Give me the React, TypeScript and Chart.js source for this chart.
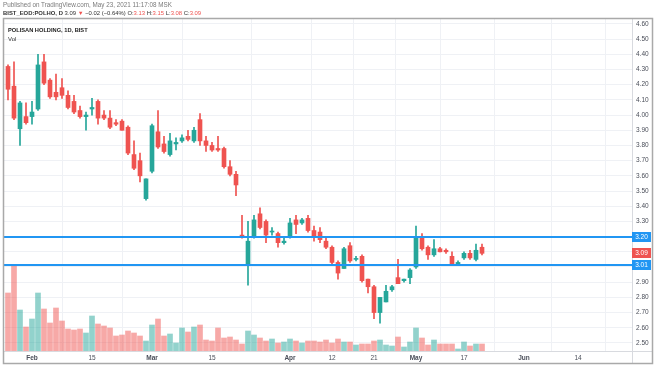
import React, { useEffect, useRef } from 'react';
import { Chart, registerables } from 'chart.js';

Chart.register(...registerables);

// Trading days (BIST), 26 Jan 2021 – 21 May 2021
const dates = [
  '2021-01-26', '2021-01-27', '2021-01-28', '2021-01-29',
  '2021-02-01', '2021-02-02', '2021-02-03', '2021-02-04', '2021-02-05', '2021-02-08', '2021-02-09', '2021-02-10', '2021-02-11', '2021-02-12',
  '2021-02-15', '2021-02-16', '2021-02-17', '2021-02-18', '2021-02-19', '2021-02-22', '2021-02-23', '2021-02-24', '2021-02-25', '2021-02-26',
  '2021-03-01', '2021-03-02', '2021-03-03', '2021-03-04', '2021-03-05', '2021-03-08', '2021-03-09', '2021-03-10', '2021-03-11', '2021-03-12',
  '2021-03-15', '2021-03-16', '2021-03-17', '2021-03-18', '2021-03-19', '2021-03-22', '2021-03-23', '2021-03-24', '2021-03-25', '2021-03-26',
  '2021-03-29', '2021-03-30', '2021-03-31',
  '2021-04-01', '2021-04-02', '2021-04-05', '2021-04-06', '2021-04-07', '2021-04-08', '2021-04-09', '2021-04-12', '2021-04-13', '2021-04-14',
  '2021-04-15', '2021-04-16', '2021-04-19', '2021-04-20', '2021-04-21', '2021-04-22', '2021-04-26', '2021-04-27', '2021-04-28', '2021-04-29',
  '2021-04-30',
  '2021-05-03', '2021-05-04', '2021-05-05', '2021-05-06', '2021-05-07', '2021-05-10', '2021-05-11', '2021-05-12', '2021-05-17', '2021-05-18',
  '2021-05-20', '2021-05-21',
];

const open = [
  4.32, 4.19, 3.91, 3.99, 3.99, 4.04, 4.35, 4.23, 4.15, 4.18,
  4.13, 4.09, 4.03, 3.99, 4.04, 4.09, 4.00, 3.98, 3.95, 3.96,
  3.92, 3.74, 3.70, 3.45, 3.63, 3.89, 3.81, 3.74, 3.81, 3.83,
  3.86, 3.83, 3.97, 3.83, 3.80, 3.78, 3.78, 3.66, 3.61, 3.21,
  3.01, 3.20, 3.35, 3.30, 3.23, 3.22, 3.16, 3.20, 3.31, 3.29,
  3.32, 3.24, 3.23, 3.17, 3.13, 3.03, 2.99, 3.14, 3.05, 3.07,
  2.92, 2.87, 2.70, 2.77, 2.85, 2.93, 2.91, 2.93, 3.00, 3.20,
  3.13, 3.08, 3.12, 3.11, 3.07, 3.01, 3.06, 3.09, 3.05, 3.13,
];
const high = [
  4.33, 4.35, 4.09, 4.08, 4.09, 4.40, 4.40, 4.24, 4.27, 4.24,
  4.16, 4.13, 4.06, 4.02, 4.11, 4.10, 4.03, 4.03, 3.97, 3.97,
  3.93, 3.83, 3.75, 3.58, 3.94, 4.03, 3.86, 3.88, 3.85, 3.87,
  3.90, 3.92, 4.01, 3.86, 3.82, 3.86, 3.79, 3.70, 3.63, 3.34,
  3.30, 3.34, 3.39, 3.31, 3.26, 3.23, 3.19, 3.32, 3.34, 3.32,
  3.34, 3.27, 3.26, 3.19, 3.14, 3.04, 3.13, 3.16, 3.07, 3.08,
  2.92, 2.88, 2.80, 2.88, 2.88, 3.05, 2.92, 2.99, 3.27, 3.22,
  3.14, 3.18, 3.13, 3.12, 3.10, 3.04, 3.10, 3.11, 3.15, 3.15,
];
const low = [
  4.10, 3.97, 3.80, 3.94, 3.94, 4.03, 4.20, 4.11, 4.10, 4.11,
  4.04, 4.01, 3.98, 3.90, 4.00, 3.94, 3.97, 3.91, 3.93, 3.90,
  3.74, 3.64, 3.56, 3.44, 3.62, 3.78, 3.75, 3.73, 3.77, 3.82,
  3.83, 3.82, 3.80, 3.76, 3.76, 3.76, 3.65, 3.60, 3.47, 3.19,
  2.88, 3.19, 3.25, 3.16, 3.21, 3.13, 3.15, 3.19, 3.22, 3.28,
  3.23, 3.17, 3.16, 3.12, 3.02, 2.92, 2.99, 3.03, 3.04, 2.90,
  2.83, 2.66, 2.63, 2.77, 2.84, 2.89, 2.90, 2.89, 2.99, 3.11,
  3.05, 3.07, 3.10, 3.09, 3.01, 3.01, 3.05, 3.05, 3.04, 3.08,
];
const close = [
  4.17, 3.98, 4.08, 3.95, 4.02, 4.33, 4.21, 4.12, 4.12, 4.13,
  4.05, 4.02, 3.99, 4.00, 4.05, 3.98, 3.98, 3.92, 3.94, 3.90,
  3.75, 3.65, 3.60, 3.58, 3.93, 3.79, 3.76, 3.83, 3.82, 3.85,
  3.84, 3.90, 3.83, 3.80, 3.77, 3.77, 3.66, 3.61, 3.54, 3.20,
  3.17, 3.31, 3.26, 3.21, 3.23, 3.16, 3.17, 3.29, 3.28, 3.31,
  3.24, 3.20, 3.18, 3.13, 3.03, 2.96, 3.12, 3.04, 3.05, 2.91,
  2.87, 2.70, 2.80, 2.84, 2.87, 2.89, 2.92, 2.98, 3.19, 3.12,
  3.08, 3.12, 3.10, 3.10, 3.02, 3.03, 3.09, 3.06, 3.11, 3.09,
];
// Volume, millions of shares
const volume = [
  5.8, 8.6, 4.1, 2.4, 3.2, 5.8, 4.2, 2.8, 4.3, 3.0,
  2.2, 2.1, 2.2, 1.8, 3.5, 2.7, 2.5, 2.3, 1.5, 1.6,
  2.0, 1.8, 1.5, 1.0, 2.6, 3.2, 1.5, 1.7, 0.8, 2.3,
  1.9, 2.4, 2.6, 1.1, 1.0, 2.3, 1.3, 1.4, 1.1, 0.7,
  2.0, 1.6, 1.3, 1.0, 1.2, 0.8, 0.9, 1.2, 1.0, 0.8,
  1.0, 1.0, 0.9, 1.1, 0.8, 1.2, 0.9, 0.9, 0.6, 0.7,
  0.7, 1.0, 1.1, 0.6, 0.5, 1.4, 0.4, 0.9, 2.3, 1.3,
  0.6, 1.1, 0.7, 0.7, 0.7, 0.2, 0.9, 0.5, 0.7, 0.7,
];

const priceTicks = [
  2.5, 2.6, 2.7, 2.8, 2.9, 3.0, 3.1, 3.2, 3.3, 3.4, 3.5,
  3.6, 3.7, 3.8, 3.9, 4.0, 4.1, 4.2, 4.3, 4.4, 4.5, 4.6,
];
const timeTickIndex = [4, 14, 24, 34, 47, 54, 61, 68, 76, 86, 95];
const timeTickLabels = ['Feb', '15', 'Mar', '15', 'Apr', '12', '21', 'May', '17', 'Jun', '14'];
const monthLabels = ['Feb', 'Mar', 'Apr', 'May', 'Jun'];
const levels = [3.2, 3.01];

const UP = '#26a69a';
const DOWN = '#ef5350';
const UP_VOL = 'rgba(38,166,154,0.5)';
const DOWN_VOL = 'rgba(239,83,80,0.5)';
const LEVEL = '#2196f3';
const FONT = '"Liberation Sans", Arial, sans-serif';

const overlayPlugin = {
  id: 'overlay',
  afterDatasetsDraw(chart: any) {
    const { ctx, chartArea, scales } = chart;
    ctx.save();
    ctx.strokeStyle = LEVEL;
    ctx.lineWidth = 2;
    levels.forEach((lv) => {
      const y = Math.round(scales.y.getPixelForValue(lv));
      ctx.beginPath();
      ctx.moveTo(chartArea.left, y);
      ctx.lineTo(chartArea.right, y);
      ctx.stroke();
    });
    ctx.restore();
  },
  afterDraw(chart: any) {
    const { ctx, chartArea, scales } = chart;
    ctx.save();
    // axis separators
    ctx.strokeStyle = '#d8dadf';
    ctx.lineWidth = 1;
    const yb = Math.round(chartArea.bottom) + 0.5;
    ctx.beginPath();
    ctx.moveTo(3, yb);
    ctx.lineTo(652, yb);
    ctx.stroke();
    const xr = Math.round(chartArea.right) + 0.5;
    ctx.beginPath();
    ctx.moveTo(xr, 18);
    ctx.lineTo(xr, 363);
    ctx.stroke();
    // outer frame
    ctx.strokeStyle = '#a9a9a9';
    ctx.lineWidth = 1.5;
    ctx.strokeRect(3.5, 18.5, 649, 345);

    // price badges
    const badge = (value: number, color: string) => {
      const y = scales.y.getPixelForValue(value);
      ctx.fillStyle = color;
      ctx.fillRect(chartArea.right, Math.round(y - 5), 19, 10);
      ctx.fillStyle = '#ffffff';
      ctx.font = `6.5px ${FONT}`;
      ctx.textAlign = 'center';
      ctx.textBaseline = 'middle';
      ctx.fillText(value.toFixed(2), chartArea.right + 9.5, Math.round(y - 5) + 5.5);
    };
    levels.forEach((lv) => badge(lv, LEVEL));
    badge(close[close.length - 1], DOWN);
    ctx.restore();
  },
};

export default function App() {
  const ref = useRef<HTMLCanvasElement | null>(null);

  useEffect(() => {
    document.body.style.margin = '0';
    const canvas = ref.current;
    if (!canvas) return;
    const candleColors = open.map((o, i) => (close[i] >= o ? UP : DOWN));
    const volColors = open.map((o, i) => (close[i] >= o ? UP_VOL : DOWN_VOL));

    const chart = new Chart(canvas, {
      type: 'bar',
      data: {
        datasets: [
          {
            label: 'Vol',
            data: volume.map((v, i) => ({ x: i, y: v })) as any,
            yAxisID: 'yv',
            backgroundColor: volColors,
            barThickness: 5,
            order: 3,
          },
          {
            label: 'wick',
            data: dates.map((_, i) => ({ x: i, y: [low[i], high[i]] })) as any,
            yAxisID: 'y',
            backgroundColor: candleColors,
            barThickness: 1,
            order: 2,
          },
          {
            label: 'body',
            data: dates.map((_, i) => ({ x: i, y: [open[i], close[i]] })) as any,
            yAxisID: 'y',
            backgroundColor: candleColors,
            barThickness: 4,
            minBarLength: 1,
            order: 1,
          },
        ],
      },
      options: {
        responsive: false,
        maintainAspectRatio: false,
        animation: false,
        events: [],
        datasets: { bar: { grouped: false } } as any,
        layout: { padding: { left: 4, right: 2, top: 18, bottom: 3 } },
        plugins: { legend: { display: false }, tooltip: { enabled: false } },
        scales: {
          x: {
            type: 'linear',
            min: -0.667,
            max: 104,
            offset: false,
            border: { display: false },
            grid: { color: '#eff1f5', drawTicks: false },
            afterBuildTicks: (s: any) => {
              s.ticks = timeTickIndex.map((v) => ({ value: v }));
            },
            afterFit: (s: any) => {
              s.height = 12;
            },
            ticks: {
              autoSkip: false,
              maxRotation: 0,
              padding: 3,
              color: '#4a4e59',
              font: (c: any) => ({
                family: FONT,
                size: 6.5,
                weight: monthLabels.includes(timeTickLabels[timeTickIndex.indexOf(c.tick?.value)]) ? 'bold' : 'normal',
              }),
              callback: (v: any) => timeTickLabels[timeTickIndex.indexOf(Number(v))] ?? '',
            },
          },
          y: {
            type: 'linear',
            position: 'right',
            min: 2.447,
            max: 4.639,
            border: { display: false },
            grid: { color: '#eff1f5', drawTicks: false },
            afterBuildTicks: (s: any) => {
              s.ticks = priceTicks.map((v) => ({ value: v }));
            },
            afterFit: (s: any) => {
              s.width = 20;
            },
            ticks: {
              padding: 4,
              color: '#4a4e59',
              font: { family: FONT, size: 6.5 },
              callback: (v: any) => Number(v).toFixed(2),
            },
          },
          yv: {
            type: 'linear',
            display: false,
            min: 0,
            max: 33.3,
          },
        },
      },
      plugins: [overlayPlugin],
    });
    return () => chart.destroy();
  }, []);

  const red = { color: DOWN };
  return (
    <div style={{ position: 'relative', width: 654, height: 366, fontFamily: FONT, background: '#fff' }}>
      <canvas ref={ref} width={654} height={366} style={{ position: 'absolute', left: 0, top: 0, width: 654, height: 366 }} />
      <div style={{ position: 'absolute', left: 3, top: 1, fontSize: 6.3, color: '#7a7a7a', whiteSpace: 'nowrap', lineHeight: '8px' }}>
        Published on TradingView.com, May 23, 2021 11:17:08 MSK
      </div>
      <div style={{ position: 'absolute', left: 3, top: 9, fontSize: 5.9, color: '#333', whiteSpace: 'nowrap', lineHeight: '8px' }}>
        <b>BIST_EOD:POLHO, D</b> 3.09 <span style={red}>▼</span> −0.02 (−0.64%) O:<span style={red}>3.13</span> H:
        <span style={red}>3.15</span> L:<span style={red}>3.08</span> C:<span style={red}>3.09</span>
      </div>
      <div style={{ position: 'absolute', left: 8, top: 26, fontSize: 5.7, color: '#222', fontWeight: 'bold', whiteSpace: 'nowrap', lineHeight: '8px' }}>
        POLISAN HOLDING, 1D, BIST
      </div>
      <div style={{ position: 'absolute', left: 8, top: 35, fontSize: 6, color: '#333', whiteSpace: 'nowrap', lineHeight: '8px' }}>
        Vol
      </div>
    </div>
  );
}
